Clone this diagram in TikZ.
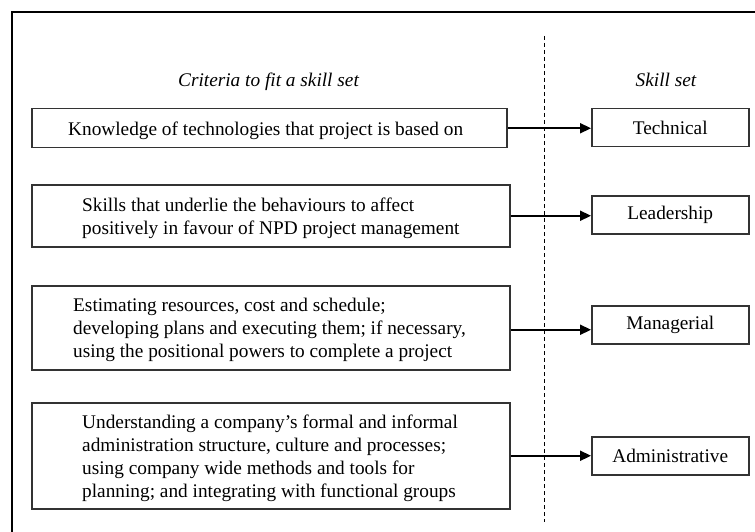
\documentclass[tikz,border=0pt]{standalone}
\usepackage{fontspec}
\setmainfont{Liberation Serif}
\usetikzlibrary{arrows.meta}
\begin{document}
\begin{tikzpicture}[x=1pt,y=-1pt,
  font=\fontsize{19.3}{23}\selectfont,
  crit/.style={draw=black!80, line width=1.5pt, inner sep=0pt, anchor=north west},
  skill/.style={draw=black!80, line width=1.5pt, inner sep=0pt,
    minimum width=157pt, minimum height=38pt, anchor=north west},
  body/.style={anchor=west, align=left, inner sep=0pt, yshift=-2.5pt},
  head/.style={font=\fontsize{19.3}{23}\selectfont\itshape, anchor=base, inner sep=0pt},
  link/.style={line width=2.2pt, -{Triangle[length=11pt,width=10pt]}},
  divider/.style={line width=1pt, dash pattern=on 4pt off 3pt},
  frame/.style={line width=2pt}]

\useasboundingbox (0,0) rectangle (755,532);

% outer frame (top and left edges)
\coordinate (fb) at (12,532);
\coordinate (fc) at (12,12);
\coordinate (fr) at (755,12);
\draw[frame] (fb) -- (fc) -- (fr);

% dividing line between criteria and skill sets
\coordinate (dtop) at (544,36);
\coordinate (dbot) at (544,522);
\draw[divider] (dtop) -- (dbot);

% column headings
\node[head] (hcrit) at (268.5,87) {Criteria to fit a skill set};
\node[head] (hskill) at (666,87) {Skill set};

% criteria boxes
\node[crit, minimum width=475pt, minimum height=39pt] (c1) at (31,108) {};
\node[crit, minimum width=478pt, minimum height=62pt] (c2) at (31,184) {};
\node[crit, minimum width=478pt, minimum height=84pt] (c3) at (31,285) {};
\node[crit, minimum width=478pt, minimum height=106pt] (c4) at (31,402) {};

\node[body] (t1) at ([xshift=37pt]c1.west)
  {Knowledge of technologies that project is based on};
\node[body] (t2) at ([xshift=51pt]c2.west)
  {Skills that underlie the behaviours to affect\\
   positively in favour of NPD project management};
\node[body] (t3) at ([xshift=42pt]c3.west)
  {Estimating resources, cost and schedule;\\
   developing plans and executing them; if necessary,\\
   using the positional powers to complete a project};
\node[body] (t4) at ([xshift=51pt]c4.west)
  {Understanding a company’s formal and informal\\
   administration structure, culture and processes;\\
   using company wide methods and tools for\\
   planning; and integrating with functional groups};

% skill set boxes
\node[skill] (s1) at (591,108) {Technical};
\node[skill] (s2) at (591,195) {Leadership};
\node[skill] (s3) at (591,305) {Managerial};
\node[skill] (s4) at (591,436) {Administrative};

% connectors
\draw[link] (c1.east) -- (c1.east -| s1.west);
\draw[link] (c2.east) -- (c2.east -| s2.west);
\draw[link] ([yshift=-2pt]c3.east) -- ([yshift=-2pt]c3.east -| s3.west);
\draw[link] (c4.east) -- (c4.east -| s4.west);

\end{tikzpicture}
\end{document}
